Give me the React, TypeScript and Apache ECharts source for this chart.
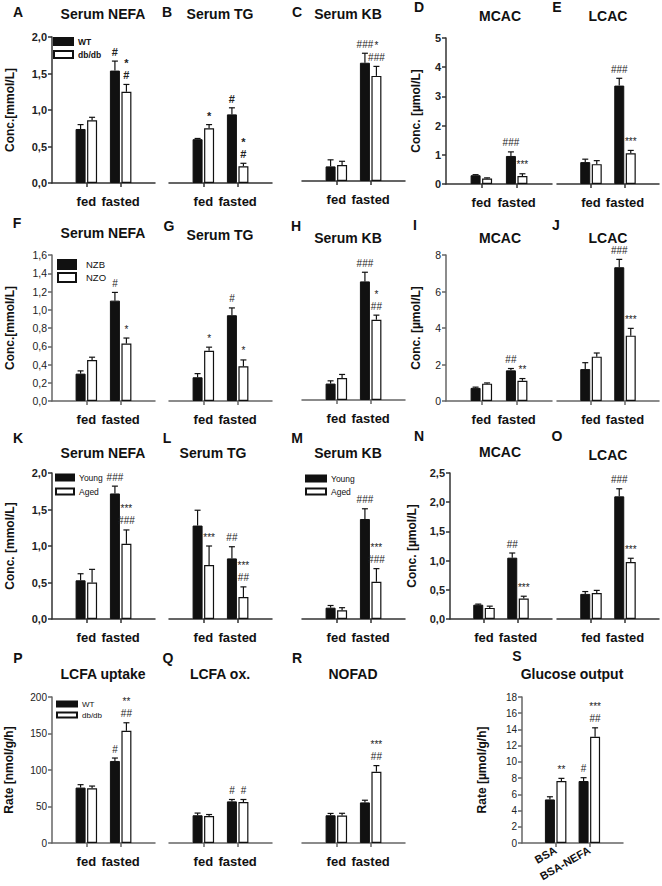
import React, { useEffect, useRef } from 'react';
import * as echarts from 'echarts';

const FONT = '"Liberation Sans", Arial, Helvetica, sans-serif';

// Categories
const CATS = ['', 'fed', 'fasted', ''];
const CATS_S = ['', 'BSA', 'BSA-NEFA', ''];

// Series names
const NAMES_DB = ['WT', 'db/db'];
const NAMES_NZ = ['NZB', 'NZO'];
const NAMES_AGE = ['Young', 'Aged'];

// ---- Values: [fed, fasted] means, SEM (upper error), significance labels ----
const A_black = [0.74, 1.54]; const A_blackSem = [0.06, 0.13];
const A_white = [0.86, 1.25]; const A_whiteSem = [0.04, 0.10];
const A_blackSig = ['', '#']; const A_whiteSig = ['', '*\n#'];

const B_black = [0.60, 0.94]; const B_blackSem = [0.01, 0.09];
const B_white = [0.75, 0.23]; const B_whiteSem = [0.05, 0.04];
const B_blackSig = ['', '#']; const B_whiteSig = ['*', '*\n#'];

const C_black = [0.20, 1.62]; const C_blackSem = [0.09, 0.13];
const C_white = [0.22, 1.44]; const C_whiteSem = [0.05, 0.13];
const C_blackSig = ['', '###']; const C_whiteSig = ['', '*\n###'];

const D_black = [0.30, 0.96]; const D_blackSem = [0.02, 0.14];
const D_white = [0.19, 0.27]; const D_whiteSem = [0.02, 0.08];
const D_blackSig = ['', '###']; const D_whiteSig = ['', '***'];

const E_black = [0.75, 3.37]; const E_blackSem = [0.10, 0.25];
const E_white = [0.68, 1.05]; const E_whiteSem = [0.12, 0.10];
const E_blackSig = ['', '###']; const E_whiteSig = ['', '***'];

const F_black = [0.30, 1.10]; const F_blackSem = [0.03, 0.09];
const F_white = [0.45, 0.63]; const F_whiteSem = [0.03, 0.06];
const F_blackSig = ['', '#']; const F_whiteSig = ['', '*'];

const G_black = [0.26, 0.94]; const G_blackSem = [0.04, 0.08];
const G_white = [0.55, 0.38]; const G_whiteSem = [0.04, 0.07];
const G_blackSig = ['', '#']; const G_whiteSig = ['*', '*'];

const H_black = [0.18, 1.30]; const H_blackSem = [0.03, 0.10];
const H_white = [0.24, 0.88]; const H_whiteSem = [0.04, 0.05];
const H_blackSig = ['', '###']; const H_whiteSig = ['', '*\n##'];

const I_black = [0.72, 1.68]; const I_blackSem = [0.04, 0.10];
const I_white = [0.95, 1.11]; const I_whiteSem = [0.04, 0.12];
const I_blackSig = ['', '##']; const I_whiteSig = ['', '**'];

const J_black = [1.75, 7.33]; const J_blackSem = [0.35, 0.43];
const J_white = [2.43, 3.58]; const J_whiteSem = [0.20, 0.40];
const J_blackSig = ['', '###']; const J_whiteSig = ['', '***'];

const K_black = [0.53, 1.72]; const K_blackSem = [0.09, 0.10];
const K_white = [0.50, 1.03]; const K_whiteSem = [0.18, 0.19];
const K_blackSig = ['', '###']; const K_whiteSig = ['', '***\n###'];

const L_black = [1.28, 0.83]; const L_blackSem = [0.21, 0.16];
const L_white = [0.74, 0.30]; const L_whiteSem = [0.26, 0.14];
const L_blackSig = ['', '##']; const L_whiteSig = ['***', '***\n##'];

const M_black = [0.155, 1.37]; const M_blackSem = [0.03, 0.14];
const M_white = [0.12, 0.51]; const M_whiteSem = [0.035, 0.18];
const M_blackSig = ['', '###']; const M_whiteSig = ['', '***\n###'];

const N_black = [0.245, 1.05]; const N_blackSem = [0.01, 0.08];
const N_white = [0.19, 0.35]; const N_whiteSem = [0.03, 0.04];
const N_blackSig = ['', '##']; const N_whiteSig = ['', '***'];

const O_black = [0.43, 2.10]; const O_blackSem = [0.04, 0.13];
const O_white = [0.445, 0.975]; const O_whiteSem = [0.045, 0.065];
const O_blackSig = ['', '###']; const O_whiteSig = ['', '***'];

const P_black = [75.9, 112.4]; const P_blackSem = [4, 4];
const P_white = [75, 153.7]; const P_whiteSem = [3, 11];
const P_blackSig = ['', '#']; const P_whiteSig = ['', '**\n##'];

const Q_black = [38, 57]; const Q_blackSem = [3, 2.6];
const Q_white = [37, 56]; const Q_whiteSem = [2, 3.6];
const Q_blackSig = ['', '#']; const Q_whiteSig = ['', '#'];

const R_black = [38, 55.6]; const R_blackSem = [2.5, 3];
const R_white = [37.7, 97.7]; const R_whiteSem = [3, 8.3];
const R_blackSig = ['', '']; const R_whiteSig = ['', '***\n##'];

const S_black = [5.37, 7.64]; const S_blackSem = [0.33, 0.41];
const S_white = [7.64, 13.1]; const S_whiteSem = [0.33, 1.1];
const S_blackSig = ['', '#']; const S_whiteSig = ['**', '***\n##'];

// Axis scales per panel: [max, interval, decimals]
const Y_A = [2, 0.5, 1]; const Y_D = [5, 1, 0]; const Y_F = [1.6, 0.2, 1]; const Y_I = [8, 2, 0];
const Y_K = [2, 0.5, 1]; const Y_N = [2.5, 0.5, 1]; const Y_P = [200, 50, 0]; const Y_S = [18, 2, 0];

const PANELS: any[] = [
  { key: 'A', title: 'Serum NEFA', names: NAMES_DB, b: A_black, bs: A_blackSem, w: A_white, ws: A_whiteSem, bSig: A_blackSig, wSig: A_whiteSig, y: Y_A, yName: 'Conc.[mmol/L]', row: 0 },
  { key: 'B', title: 'Serum TG', names: NAMES_DB, b: B_black, bs: B_blackSem, w: B_white, ws: B_whiteSem, bSig: B_blackSig, wSig: B_whiteSig, y: Y_A, row: 0 },
  { key: 'C', title: 'Serum KB', names: NAMES_DB, b: C_black, bs: C_blackSem, w: C_white, ws: C_whiteSem, bSig: C_blackSig, wSig: C_whiteSig, y: Y_A, row: 0 },
  { key: 'D', title: 'MCAC', names: NAMES_DB, b: D_black, bs: D_blackSem, w: D_white, ws: D_whiteSem, bSig: D_blackSig, wSig: D_whiteSig, y: Y_D, yName: 'Conc. [µmol/L]', row: 0 },
  { key: 'E', title: 'LCAC', names: NAMES_DB, b: E_black, bs: E_blackSem, w: E_white, ws: E_whiteSem, bSig: E_blackSig, wSig: E_whiteSig, y: Y_D, row: 0 },
  { key: 'F', title: 'Serum NEFA', names: NAMES_NZ, b: F_black, bs: F_blackSem, w: F_white, ws: F_whiteSem, bSig: F_blackSig, wSig: F_whiteSig, y: Y_F, yName: 'Conc.[mmol/L]', row: 1 },
  { key: 'G', title: 'Serum TG', names: NAMES_NZ, b: G_black, bs: G_blackSem, w: G_white, ws: G_whiteSem, bSig: G_blackSig, wSig: G_whiteSig, y: Y_F, row: 1 },
  { key: 'H', title: 'Serum KB', names: NAMES_NZ, b: H_black, bs: H_blackSem, w: H_white, ws: H_whiteSem, bSig: H_blackSig, wSig: H_whiteSig, y: Y_F, row: 1 },
  { key: 'I', title: 'MCAC', names: NAMES_NZ, b: I_black, bs: I_blackSem, w: I_white, ws: I_whiteSem, bSig: I_blackSig, wSig: I_whiteSig, y: Y_I, yName: 'Conc. [µmol/L]', row: 1 },
  { key: 'J', title: 'LCAC', names: NAMES_NZ, b: J_black, bs: J_blackSem, w: J_white, ws: J_whiteSem, bSig: J_blackSig, wSig: J_whiteSig, y: Y_I, row: 1 },
  { key: 'K', title: 'Serum NEFA', names: NAMES_AGE, b: K_black, bs: K_blackSem, w: K_white, ws: K_whiteSem, bSig: K_blackSig, wSig: K_whiteSig, y: Y_K, yName: 'Conc. [mmol/L]', row: 2 },
  { key: 'L', title: 'Serum TG', names: NAMES_AGE, b: L_black, bs: L_blackSem, w: L_white, ws: L_whiteSem, bSig: L_blackSig, wSig: L_whiteSig, y: Y_K, row: 2 },
  { key: 'M', title: 'Serum KB', names: NAMES_AGE, b: M_black, bs: M_blackSem, w: M_white, ws: M_whiteSem, bSig: M_blackSig, wSig: M_whiteSig, y: Y_K, row: 2 },
  { key: 'N', title: 'MCAC', names: NAMES_AGE, b: N_black, bs: N_blackSem, w: N_white, ws: N_whiteSem, bSig: N_blackSig, wSig: N_whiteSig, y: Y_N, yName: 'Conc. [µmol/L]', row: 2 },
  { key: 'O', title: 'LCAC', names: NAMES_AGE, b: O_black, bs: O_blackSem, w: O_white, ws: O_whiteSem, bSig: O_blackSig, wSig: O_whiteSig, y: Y_N, row: 2 },
  { key: 'P', title: 'LCFA uptake', names: NAMES_DB, b: P_black, bs: P_blackSem, w: P_white, ws: P_whiteSem, bSig: P_blackSig, wSig: P_whiteSig, y: Y_P, yName: 'Rate [nmol/g/h]', row: 3 },
  { key: 'Q', title: 'LCFA ox.', names: NAMES_DB, b: Q_black, bs: Q_blackSem, w: Q_white, ws: Q_whiteSem, bSig: Q_blackSig, wSig: Q_whiteSig, y: Y_P, row: 3 },
  { key: 'R', title: 'NOFAD', names: NAMES_DB, b: R_black, bs: R_blackSem, w: R_white, ws: R_whiteSem, bSig: R_blackSig, wSig: R_whiteSig, y: Y_P, row: 3 },
  { key: 'S', title: 'Glucose output', names: NAMES_DB, b: S_black, bs: S_blackSem, w: S_white, ws: S_whiteSem, bSig: S_blackSig, wSig: S_whiteSig, y: Y_S, yName: 'Rate [µmol/g/h]', row: 3, cats: CATS_S },
];

// ---- Layout (pixels) ----
const LAYOUT: Record<string, any> = {
  A: { left: 52, top: 37, width: 103, height: 146, nameGap: 36, letter: [18, 12], titleXY: [103, 14] },
  B: { left: 169, top: 37, width: 103, height: 146, letter: [167, 12], titleXY: [220, 14] },
  C: { left: 302, top: 35, width: 103, height: 146, letter: [297, 12], titleXY: [348, 14] },
  D: { left: 446, top: 38, width: 106, height: 146, nameGap: 24, letter: [419, 7], titleXY: [500, 16] },
  E: { left: 557, top: 38, width: 103, height: 146, letter: [557, 7], titleXY: [608, 16] },
  F: { left: 52, top: 255, width: 103, height: 146, nameGap: 36, letter: [17, 223], titleXY: [103, 233] },
  G: { left: 169, top: 255, width: 103, height: 146, letter: [169, 226], titleXY: [220, 235] },
  H: { left: 302, top: 254, width: 103, height: 146, letter: [296, 226], titleXY: [348, 238] },
  I: { left: 446, top: 255, width: 106, height: 146, nameGap: 24, letter: [415, 225], titleXY: [500, 238] },
  J: { left: 557, top: 255, width: 103, height: 146, letter: [556, 225], titleXY: [608, 238] },
  K: { left: 52, top: 473, width: 103, height: 146, nameGap: 36, letter: [18, 438], titleXY: [103, 453] },
  L: { left: 169, top: 473, width: 103, height: 146, letter: [167, 438], titleXY: [213, 453] },
  M: { left: 302, top: 473, width: 103, height: 146, letter: [297, 438], titleXY: [348, 453] },
  N: { left: 450, top: 473, width: 102, height: 146, nameGap: 32, letter: [419, 436], titleXY: [500, 452] },
  O: { left: 557, top: 473, width: 103, height: 146, letter: [557, 436], titleXY: [608, 455] },
  P: { left: 52, top: 697, width: 103, height: 146, nameGap: 37, letter: [18, 658], titleXY: [103, 674] },
  Q: { left: 169, top: 697, width: 103, height: 146, letter: [168, 658], titleXY: [220, 674] },
  R: { left: 302, top: 697, width: 103, height: 146, letter: [297, 658], titleXY: [353, 674] },
  S: { left: 522, top: 697, width: 101, height: 146, nameGap: 34, letter: [517, 656], titleXY: [572, 674] },
};

const ROW_STYLE = [
  { axis: '#333', tickWeight: 'bold', tickSize: 11 },
  { axis: '#666', tickWeight: 'normal', tickSize: 10.5 },
  { axis: '#333', tickWeight: 'bold', tickSize: 11 },
  { axis: '#666', tickWeight: 'normal', tickSize: 10 },
];

const LEGENDS = [
  { names: NAMES_DB, left: 53, top: 37, w: 19, h: 7, gap: 4, size: 8.5, weight: 'bold', pad: 0 },
  { names: NAMES_NZ, left: 57, top: 259, w: 18, h: 9, gap: 2, size: 9.5, weight: 'normal', pad: 5 },
  { names: NAMES_AGE, left: 55, top: 473, w: 18, h: 6, gap: 5, size: 8.5, weight: 'normal', pad: 0 },
  { names: NAMES_AGE, left: 305, top: 474, w: 20, h: 6, gap: 4, size: 8.5, weight: 'normal', pad: 0 },
  { names: NAMES_DB, left: 56, top: 700, w: 20, h: 5, gap: 3, size: 8, weight: 'normal', pad: 0 },
];

const OFF = 5.75;
const CAP = 3;

function makeErrRender(sigs: string[], bold: boolean, size: number) {
  return (params: any, api: any) => {
    const cat = api.value(0);
    const mean = api.value(1);
    const top = api.value(2);
    const side = api.value(3);
    const base = api.coord([cat, mean]);
    const tp = api.coord([cat, top]);
    const x = base[0] + side * OFF;
    const stroke = { stroke: '#111', lineWidth: 1.2 };
    const children: any[] = [
      { type: 'line', shape: { x1: x, y1: base[1], x2: x, y2: tp[1] }, style: stroke },
      { type: 'line', shape: { x1: x - CAP, y1: tp[1], x2: x + CAP, y2: tp[1] }, style: stroke },
    ];
    const sig = sigs[params.dataIndex];
    if (sig) {
      children.push({
        type: 'text',
        x,
        y: tp[1] - 3,
        style: {
          text: sig,
          fill: '#222',
          fontSize: size,
          fontWeight: bold ? 'bold' : 'normal',
          fontFamily: FONT,
          lineHeight: 12,
          align: 'center',
          verticalAlign: 'bottom',
        },
      });
    }
    return { type: 'group', children };
  };
}

function buildOption() {
  const grid: any[] = [];
  const xAxis: any[] = [];
  const yAxis: any[] = [];
  const series: any[] = [];
  const graphic: any[] = [];

  PANELS.forEach((p, i) => {
    const L = LAYOUT[p.key];
    const rs = ROW_STYLE[p.row];
    const [max, step, dec] = p.y;
    const cats = p.cats || CATS;
    const isS = p.key === 'S';
    grid.push({ left: L.left, top: L.top, width: L.width, height: L.height, containLabel: false });
    xAxis.push({
      gridIndex: i,
      type: 'category',
      data: cats,
      boundaryGap: false,
      axisLine: { show: true, lineStyle: { color: rs.axis, width: 1.5 } },
      axisTick: { show: true, length: 4, interval: (idx: number) => idx === 1 || idx === 2, lineStyle: { color: rs.axis, width: 1.5 } },
      axisLabel: {
        interval: 0,
        margin: isS ? 6 : 12,
        rotate: isS ? 30 : 0,
        fontSize: isS ? 11 : 13,
        fontWeight: 'bold',
        color: '#111',
        fontFamily: FONT,
      },
      splitLine: { show: false },
    });
    yAxis.push({
      gridIndex: i,
      type: 'value',
      min: 0,
      max,
      interval: step,
      show: !!p.yName,
      axisLine: { show: true, lineStyle: { color: rs.axis, width: 1.5 } },
      axisTick: { show: true, length: 4, lineStyle: { color: rs.axis, width: 1.5 } },
      splitLine: { show: false },
      axisLabel: {
        margin: 5,
        fontSize: rs.tickSize,
        fontWeight: rs.tickWeight,
        color: '#222',
        fontFamily: FONT,
        formatter: (v: number) => (dec ? v.toFixed(dec).replace('.', ',') : String(Math.round(v))),
      },
      name: p.yName || '',
      nameLocation: 'middle',
      nameGap: L.nameGap || 30,
      nameTextStyle: { fontSize: 12, fontWeight: 'bold', color: '#111', fontFamily: FONT },
    });

    series.push({
      type: 'bar',
      name: p.names[0],
      xAxisIndex: i,
      yAxisIndex: i,
      data: ['-', ...p.b, '-'],
      barWidth: 10,
      barGap: '15%',
      itemStyle: { color: '#111', borderColor: '#111', borderWidth: 1 },
      silent: true,
    });
    series.push({
      type: 'bar',
      name: p.names[1],
      xAxisIndex: i,
      yAxisIndex: i,
      data: ['-', ...p.w, '-'],
      barWidth: 10,
      barGap: '15%',
      itemStyle: { color: '#fff', borderColor: '#111', borderWidth: 1.2 },
      silent: true,
    });
    const bold = p.key === 'A' || p.key === 'B';
    const sz = bold ? 11 : 10;
    ['b', 'w'].forEach((k) => {
      const vals = p[k];
      const sems = p[k + 's'];
      series.push({
        type: 'custom',
        xAxisIndex: i,
        yAxisIndex: i,
        z: 5,
        silent: true,
        clip: false,
        itemStyle: { color: '#111' },
        data: vals.map((v: number, j: number) => [j + 1, v, v + sems[j], k === 'b' ? -1 : 1]),
        renderItem: makeErrRender(k === 'b' ? p.bSig : p.wSig, bold, sz),
      });
    });

    graphic.push({
      type: 'text',
      x: L.letter[0],
      y: L.letter[1],
      style: { text: p.key, fontSize: 14, fontWeight: 'bold', fontFamily: FONT, fill: '#111', textAlign: 'center', textVerticalAlign: 'middle' },
    });
    graphic.push({
      type: 'text',
      x: L.titleXY[0],
      y: L.titleXY[1],
      style: { text: p.title, fontSize: 14, fontWeight: 'bold', fontFamily: FONT, fill: '#111', textAlign: 'center', textVerticalAlign: 'middle' },
    });
  });

  const legend = LEGENDS.map((lg) => ({
    left: lg.left,
    top: lg.top,
    orient: 'vertical',
    padding: 0,
    itemWidth: lg.w,
    itemHeight: lg.h,
    itemGap: lg.gap,
    icon: 'rect',
    selectedMode: false,
    data: lg.names,
    textStyle: {
      fontSize: lg.size,
      fontWeight: lg.weight,
      color: '#111',
      fontFamily: FONT,
      lineHeight: lg.h,
      padding: [0, 0, 0, lg.pad],
    },
  }));

  return {
    animation: false,
    backgroundColor: '#ffffff',
    grid,
    xAxis,
    yAxis,
    series,
    legend,
    graphic,
  };
}

export default function App() {
  const ref = useRef<HTMLDivElement>(null);
  useEffect(() => {
    if (!ref.current) return;
    const chart = echarts.init(ref.current, undefined, { renderer: 'svg' });
    chart.setOption(buildOption() as any);
    return () => chart.dispose();
  }, []);
  return (
    <div
      ref={ref}
      style={{ position: 'absolute', left: 0, top: 0, width: 662, height: 886, background: '#fff' }}
    />
  );
}
